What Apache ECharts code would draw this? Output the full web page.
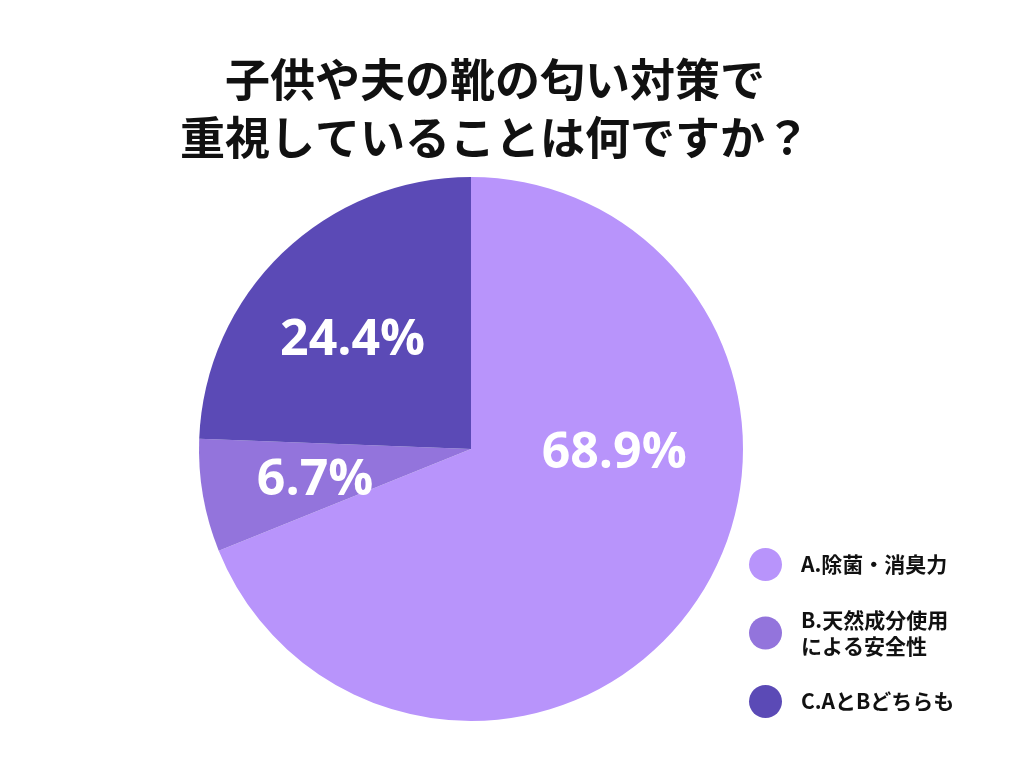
<!DOCTYPE html>
<html><head><meta charset="utf-8">
<script src="https://cdn.jsdelivr.net/npm/echarts@6/dist/echarts.min.js"></script>
<style>html,body{margin:0;background:#fff}#c{width:1024px;height:768px}</style>
</head><body><div id="c"></div>
<script>
const categories = ['A.除菌・消臭力', 'B.天然成分使用\nによる安全性', 'C.AとBどちらも'];
const values = [68.9, 6.7, 24.4];
const colors = ['#b894fb', '#9374dc', '#5b4ab6'];
const labelOffsets = [[28, -73], [-19, 8], [-22, -8]];
const chart = echarts.init(document.getElementById('c'));
const font = '"Noto Sans CJK JP", "Noto Sans", sans-serif';
chart.setOption({
  animation: false,
  title: {
    text: '子供や夫の靴の匂い対策で\n重視していることは何ですか？',
    left: 490, top: 46, textAlign: 'center',
    textStyle: { fontFamily: font, fontSize: 45, fontWeight: 'bold', color: '#111', lineHeight: 58 }
  },
  legend: {
    orient: 'vertical', left: 744, top: 543, itemWidth: 33, itemHeight: 33, itemGap: 26,
    icon: 'circle',
    textStyle: { fontFamily: font, fontSize: 21, fontWeight: 'bold', color: '#111', lineHeight: 26, padding: [0, 0, 0, 14] }
  },
  series: [{
    type: 'pie', center: [471, 449], radius: [0, 272], startAngle: 90, clockwise: true,
    data: categories.map((n, i) => ({
      name: n, value: values[i], itemStyle: { color: colors[i] },
      label: { offset: labelOffsets[i] }
    })),
    label: {
      position: 'inside', formatter: p => p.value.toFixed(1) + '%',
      color: '#fff', fontFamily: '"Open Sans", sans-serif', fontSize: 50, fontWeight: 'bold'
    },
    labelLine: { show: false }
  }]
});
</script></body></html>
